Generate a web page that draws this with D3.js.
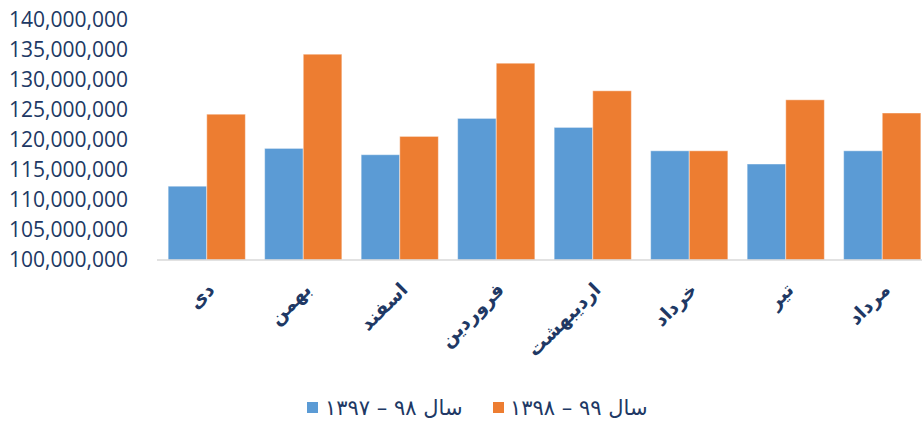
<!DOCTYPE html>
<html><head><meta charset="utf-8">
<script src="https://cdn.jsdelivr.net/npm/d3@7"></script>
<style>
html,body{margin:0;padding:0;background:#fff;overflow:hidden}
svg{display:block}
</style></head>
<body>
<svg id="chart" width="922" height="422"></svg>
<script>
const categories = ["دی","بهمن","اسفند","فروردین","اردیبهشت","خرداد","تیر","مرداد"];
const seriesNames = ["سال ۹۸ – ۱۳۹۷", "سال ۹۹ – ۱۳۹۸"];
const series1397 = [112300000, 118600000, 117550000, 123600000, 122100000, 118200000, 116000000, 118200000];
const series1398 = [124300000, 134300000, 120600000, 132800000, 128200000, 118200000, 126700000, 124500000];
const yTicks = [100000000,105000000,110000000,115000000,120000000,125000000,130000000,135000000,140000000];
const colors = ["#5B9BD5", "#ED7D31"];

const svg = d3.select("#chart");
const x0 = d3.scaleBand().domain(categories).range([158.5, 930.5]).paddingInner(0.2).paddingOuter(0.1);
const x1 = d3.scaleBand().domain([0,1]).range([0, x0.bandwidth()]);
const y = d3.scaleLinear().domain([100000000, 140000000]).range([260, 20]);

const seriesData = [series1397, series1398];
const textColor = "#203864";

// bars
const g = svg.append("g");
categories.forEach((c, i) => {
  seriesData.forEach((s, k) => {
    g.append("rect")
      .attr("x", x0(c) + x1(k))
      .attr("y", y(s[i]))
      .attr("width", x1.bandwidth())
      .attr("height", y(100000000) - y(s[i]))
      .attr("fill", colors[k])
      .attr("stroke", "#ffffff")
      .attr("stroke-opacity", 0.45)
      .attr("stroke-width", 1);
  });
});

// baseline
svg.append("line")
  .attr("x1", 157).attr("x2", 922)
  .attr("y1", y(100000000)).attr("y2", y(100000000))
  .attr("stroke", "#D9D9D9").attr("stroke-width", 1.5);

// y axis
const yAxis = d3.axisLeft(y).tickValues(yTicks).tickFormat(d3.format(",")).tickSize(0).tickPadding(0);
const ya = svg.append("g").attr("transform", "translate(128,0)").call(yAxis);
ya.select(".domain").remove();
ya.selectAll("text")
  .attr("fill", textColor)
  .style("font-family", "'Open Sans', sans-serif")
  .style("font-size", "21px")
  .attr("dy", "0.3em");

// x axis labels
const xAxis = d3.axisBottom(x0).tickSize(0).tickPadding(0);
const xa = svg.append("g").attr("transform", "translate(0,262)").call(xAxis);
xa.select(".domain").remove();
xa.selectAll(".tick text")
  .attr("fill", textColor)
  .style("font-family", "'DejaVu Sans', sans-serif")
  .style("font-size", "19px")
  .style("font-weight", "bold")
  .attr("text-anchor", "end")
  .attr("dy", "0")
  .attr("y", 0)
  .attr("transform", "translate(9,29) rotate(-45)");

// legend
const legend = svg.append("g");
const legendItems = [{x: 307, tx: 325}, {x: 493, tx: 510}];
seriesNames.forEach((name, k) => {
  legend.append("rect")
    .attr("x", legendItems[k].x).attr("y", 402)
    .attr("width", 11).attr("height", 11)
    .attr("fill", colors[k]);
  legend.append("text")
    .attr("x", legendItems[k].tx).attr("y", 415)
    .attr("direction", "rtl")
    .attr("text-anchor", "end")
    .attr("fill", textColor)
    .style("font-family", "'DejaVu Sans', sans-serif")
    .style("font-size", "21px")
    .text(name);
});
</script>
</body></html>
